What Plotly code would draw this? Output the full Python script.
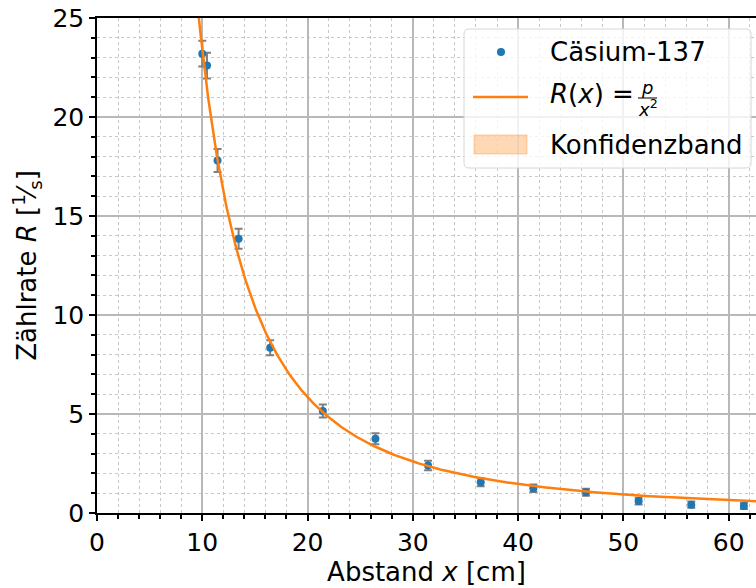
import numpy as np
import plotly.graph_objects as go

# Data
abstand = [10.0, 10.45, 11.45, 13.45, 16.45, 21.45, 26.45, 31.45, 36.45, 41.45, 46.45, 51.45, 56.45, 61.45]
rate = [23.2, 22.6, 17.8, 13.85, 8.35, 5.15, 3.75, 2.4, 1.55, 1.25, 1.05, 0.6, 0.42, 0.35]
rate_err = [0.65, 0.65, 0.58, 0.5, 0.38, 0.33, 0.28, 0.24, 0.2, 0.19, 0.18, 0.17, 0.16, 0.15]

# Fit parameter R(x) = p / x^2
p_fit = 2340.0
p_err = 15.0

legend_labels = ["Cäsium-137", "<i>R</i>(<i>x</i>) =", "Konfidenzband"]

x_fit = np.linspace(9.0, 63.0, 600)
y_fit = p_fit / x_fit**2
y_lo = (p_fit - p_err) / x_fit**2
y_hi = (p_fit + p_err) / x_fit**2

FONT = "DejaVu Sans"
BLUE = "#1f77b4"
ORANGE = "#ff7f0e"
BAND = "rgba(255,127,14,0.3)"

fig = go.Figure()
fig.add_trace(go.Scatter(
    x=np.concatenate([x_fit, x_fit[::-1]]),
    y=np.concatenate([y_hi, y_lo[::-1]]),
    fill="toself", mode="lines", line=dict(color=BAND, width=0.5),
    fillcolor=BAND, name="Konfidenzband", showlegend=False,
))
fig.add_trace(go.Scatter(
    x=abstand, y=rate, mode="markers", name="Cäsium-137", showlegend=False,
    marker=dict(color=BLUE, size=8),
    error_y=dict(type="data", array=rate_err, color="#808080", thickness=2, width=4),
))
fig.add_trace(go.Scatter(
    x=x_fit, y=y_fit, mode="lines", name="R(x) = p/x²", showlegend=False,
    line=dict(color=ORANGE, width=2.5),
))

# ---- manual legend (matplotlib style) in paper coordinates ----
L, T, B, W = 97, 18, 513, 659
H = B - T
def px(x):
    return (x - L) / W
def py(y):
    return (B - y) / H

x0, x1, y0, y1 = 464, 751, 29, 168
r = 5
path = (f"M {px(x0+r)},{py(y0)} L {px(x1-r)},{py(y0)} "
        f"Q {px(x1)},{py(y0)} {px(x1)},{py(y0+r)} "
        f"L {px(x1)},{py(y1-r)} Q {px(x1)},{py(y1)} {px(x1-r)},{py(y1)} "
        f"L {px(x0+r)},{py(y1)} Q {px(x0)},{py(y1)} {px(x0)},{py(y1-r)} "
        f"L {px(x0)},{py(y0+r)} Q {px(x0)},{py(y0)} {px(x0+r)},{py(y0)} Z")
shapes = [
    dict(type="path", path=path, xref="paper", yref="paper",
         fillcolor="rgba(255,255,255,0.8)", line=dict(color="#d6d6d6", width=1), layer="above"),
    dict(type="circle", xref="paper", yref="paper",
         x0=px(497), x1=px(505), y0=py(48), y1=py(56),
         fillcolor=BLUE, line=dict(color=BLUE, width=0), layer="above"),
    dict(type="line", xref="paper", yref="paper",
         x0=px(473), x1=px(528), y0=py(97), y1=py(97),
         line=dict(color=ORANGE, width=2.5), layer="above"),
    dict(type="rect", xref="paper", yref="paper",
         x0=px(474), x1=px(527), y0=py(135), y1=py(154),
         fillcolor=BAND, line=dict(color="rgba(255,127,14,0.35)", width=1), layer="above"),
    dict(type="line", xref="paper", yref="paper",
         x0=px(638), x1=px(657), y0=py(98), y1=py(98),
         line=dict(color="black", width=1), layer="above"),
]
annotations = [
    dict(text=legend_labels[0], x=px(548), y=py(52), xref="paper", yref="paper",
         xanchor="left", yanchor="middle", showarrow=False, font=dict(size=26)),
    dict(text=legend_labels[1], x=px(548), y=py(94), xref="paper", yref="paper",
         xanchor="left", yanchor="middle", showarrow=False, font=dict(size=26)),
    dict(text="<i>p</i>", x=px(647), y=py(87), xref="paper", yref="paper",
         xanchor="center", yanchor="middle", showarrow=False, font=dict(size=18)),
    dict(text="<i>x</i><sup>2</sup>", x=px(648), y=py(108), xref="paper", yref="paper",
         xanchor="center", yanchor="middle", showarrow=False, font=dict(size=18)),
    dict(text=legend_labels[2], x=px(548), y=py(145), xref="paper", yref="paper",
         xanchor="left", yanchor="middle", showarrow=False, font=dict(size=26)),
]

grid_major = "#b8b8b8"
fig.update_layout(
    width=756, height=588,
    margin=dict(l=L, r=0, t=T, b=588 - B),
    paper_bgcolor="white", plot_bgcolor="white",
    font=dict(family=FONT, size=25, color="black"),
    showlegend=False,
    shapes=shapes, annotations=annotations,
    xaxis=dict(
        range=[0, 62.6], tickvals=[0, 10, 20, 30, 40, 50, 60],
        showline=True, linecolor="black", linewidth=1.5, mirror=True,
        ticks="outside", ticklen=6, tickwidth=1.5, tickcolor="black",
        showgrid=True, gridcolor=grid_major, gridwidth=1.7,
        zeroline=False,
        minor=dict(dtick=2, ticks="outside", ticklen=4, tickcolor="black",
                   showgrid=True, gridcolor="#c8c8c8", griddash="dot", gridwidth=1),
        title=dict(text="Abstand <i>x</i> [cm]", font=dict(size=26), standoff=4),
        tickfont=dict(size=25),
    ),
    yaxis=dict(
        range=[0, 25], tickvals=[0, 5, 10, 15, 20, 25],
        showline=True, linecolor="black", linewidth=1.5, mirror=False,
        ticks="outside", ticklen=6, tickwidth=1.5, tickcolor="black",
        showgrid=True, gridcolor=grid_major, gridwidth=1.7,
        zeroline=False,
        minor=dict(dtick=1, ticks="outside", ticklen=4, tickcolor="black",
                   showgrid=True, gridcolor="#c8c8c8", griddash="dot", gridwidth=1),
        title=dict(text="Zählrate <i>R</i> [<sup>1</sup>⁄<sub>s</sub>]", font=dict(size=26), standoff=8),
        tickfont=dict(size=25),
    ),
)

fig.write_html("out.html")
